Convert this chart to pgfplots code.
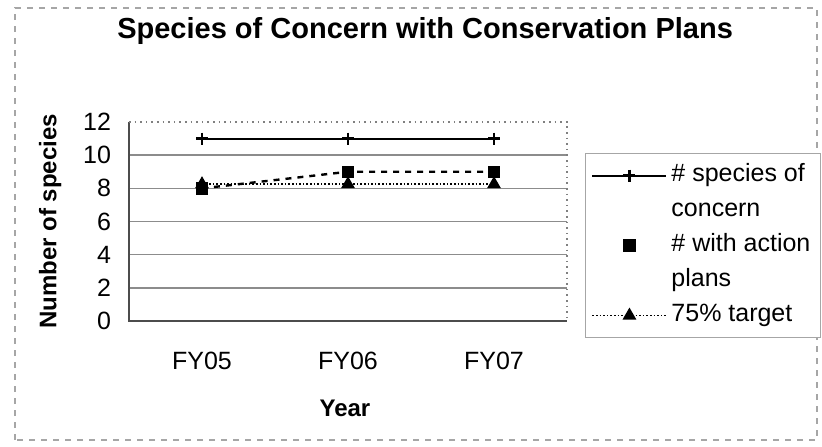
\documentclass[border=0pt]{standalone}
\usepackage{fontspec}
\setmainfont{Liberation Sans}
\usepackage{pgfplots}
\pgfplotsset{compat=1.18}
\definecolor{gridgray}{gray}{0.55}
\pgfplotsset{
  wide line legend/.style={legend image code/.code={\draw[mark repeat=2,mark phase=2,##1] plot coordinates {(0pt,0pt) (18.5pt,0pt) (37pt,0pt)};}},
  mark only legend/.style={legend image code/.code={\draw[##1, only marks] plot coordinates {(18.5pt,0pt)};}},
}
\begin{document}
\begin{tikzpicture}
\useasboundingbox (-64.5pt,-62.5pt) rectangle (346.5pt,160.5pt);
\draw[gray!70, dashed, line width=0.6pt] (-57pt,-59.5pt) rectangle (344pt,156.5pt);
\begin{axis}[
  at={(0,0)}, anchor=south west,
  scale only axis, width=219pt, height=99.5pt,
  xmin=-0.5, xmax=2.5, ymin=0, ymax=12,
  xtick={0,1,2}, xticklabels={FY05,FY06,FY07},
  ytick={0,2,4,6,8,10,12},
  extra y ticks={2,4,6,8,10}, extra y tick labels={},
  extra y tick style={grid=major, major grid style={gridgray, line width=0.8pt}},
  major tick length=0pt,
  axis line style={draw=none},
  tick label style={font=\fontsize{12.5}{14}\selectfont},
  /pgf/number format/assume math mode=true,
  xticklabel style={yshift=-12pt},
  yticklabel style={xshift=-5.5pt},
  title={Species of Concern with Conservation Plans},
  title style={font=\fontsize{14.5}{17}\selectfont\bfseries, at={(axis description cs:0.676,1.397)}, anchor=center},
  xlabel={Year}, ylabel={Number of species},
  label style={font=\fontsize{12}{14}\selectfont\bfseries},
  xlabel style={at={(axis description cs:0.493,-0.437)}, anchor=center},
  ylabel style={at={(axis description cs:-0.18,0.5)}, anchor=center},
  legend style={at={(axis description cs:1.041,0.844)}, anchor=north west, draw=gray!70, line width=0.5pt,
    font=\fontsize{12.5}{15}\selectfont, row sep=3.5pt,
    nodes={inner ysep=1pt, text height=9pt, text depth=3pt},
    inner ysep=4pt},
  legend cell align=left,
  wide line legend,
  clip=false,
]
\addplot[black, line width=1pt, mark=+, mark size=3pt, mark options={line width=1.4pt}]
  coordinates {(0,11) (1,11) (2,11)};
\addlegendentry{\# species of}
\addlegendimage{empty legend}
\addlegendentry{concern}
\addplot[black, densely dotted, line width=0.8pt, mark=triangle*, mark size=3.2pt, mark options={solid},
  forget plot]
  coordinates {(0,8.25) (1,8.25) (2,8.25)};
\addplot[black, dashed, line width=1.2pt, mark=square*, mark size=2.5pt, mark options={solid},
  mark only legend]
  coordinates {(0,8) (1,9) (2,9)};
\addlegendentry{\# with action}
\addlegendimage{empty legend}
\addlegendentry{plans}
\addlegendimage{black, densely dotted, line width=0.8pt, mark=triangle*, mark size=3.2pt, mark options={solid}}
\addlegendentry{75\% target}
\draw[gray!60!black, line width=0.8pt] (rel axis cs:0,1) -- (rel axis cs:0,0) -- (rel axis cs:1,0);
\draw[gray, dotted, line width=0.8pt] (rel axis cs:0,1) -- (rel axis cs:1,1) -- (rel axis cs:1,0);
\end{axis}
\end{tikzpicture}
\end{document}
